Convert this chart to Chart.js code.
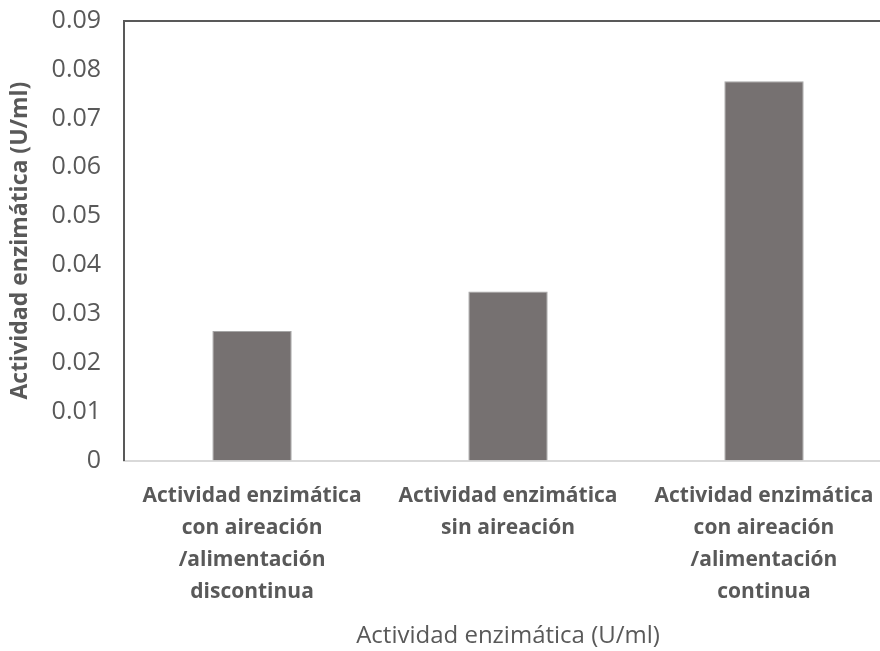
<!DOCTYPE html>
<html>
<head>
<meta charset="utf-8">
<script src="https://cdn.jsdelivr.net/npm/chart.js@4/dist/chart.umd.min.js"></script>
<style>
  html, body { margin: 0; padding: 0; background: #fff; overflow: hidden; }
  #wrap { width: 892px; height: 651px; }
</style>
</head>
<body>
<div id="wrap"><canvas id="c" width="892" height="651"></canvas></div>
<script>
// Enzyme activity per culture condition (U/ml)
const categories = [
  ['Actividad enzimática', 'con aireación', '/alimentación', 'discontinua'],
  ['Actividad enzimática', 'sin aireación'],
  ['Actividad enzimática', 'con aireación', '/alimentación', 'continua']
];
const actividad = [0.0265, 0.0346, 0.0776];
const yTicks = [0, 0.01, 0.02, 0.03, 0.04, 0.05, 0.06, 0.07, 0.08, 0.09];

const FONT = "'Open Sans', 'Noto Sans', sans-serif";
const GREY = '#595959';

new Chart(document.getElementById('c'), {
  type: 'bar',
  data: {
    labels: categories,
    datasets: [{
      data: actividad,
      backgroundColor: '#767171',
      borderColor: '#a6a6a6',
      borderWidth: 1,
      barPercentage: 0.62,
      categoryPercentage: 0.5
    }]
  },
  options: {
    responsive: false,
    animation: false,
    layout: { padding: { left: 7, right: 0, top: 0, bottom: 0 } },
    plugins: { legend: { display: false }, tooltip: { enabled: false } },
    scales: {
      x: {
        grid: { display: false },
        border: { color: '#d9d9d9', width: 2 },
        ticks: {
          color: GREY,
          font: { family: FONT, size: 21, weight: 'bold', lineHeight: 1.52 },
          padding: 12,
          maxRotation: 0,
          autoSkip: false
        },
        title: {
          display: true,
          text: 'Actividad enzimática (U/ml)',
          color: GREY,
          font: { family: FONT, size: 24 },
          padding: { top: 2, bottom: 0 }
        }
      },
      xTop: {
        position: 'top',
        grid: { display: false },
        border: { color: GREY, width: 2 },
        ticks: { display: false }
      },
      y: {
        min: 0,
        max: 0.09,
        afterBuildTicks: (scale) => { scale.ticks = yTicks.map(v => ({ value: v })); },
        grid: { display: false },
        border: { color: GREY, width: 2 },
        ticks: {
          color: GREY,
          font: { family: FONT, size: 25, lineHeight: 0.45 },
          padding: 15,
          callback: (v) => v === 0 ? '0' : v.toFixed(2)
        },
        title: {
          display: true,
          text: 'Actividad enzimática (U/ml)',
          color: GREY,
          font: { family: FONT, size: 23, weight: 'bold' },
          padding: { top: 0, bottom: 2 }
        }
      }
    }
  }
});
</script>
</body>
</html>
